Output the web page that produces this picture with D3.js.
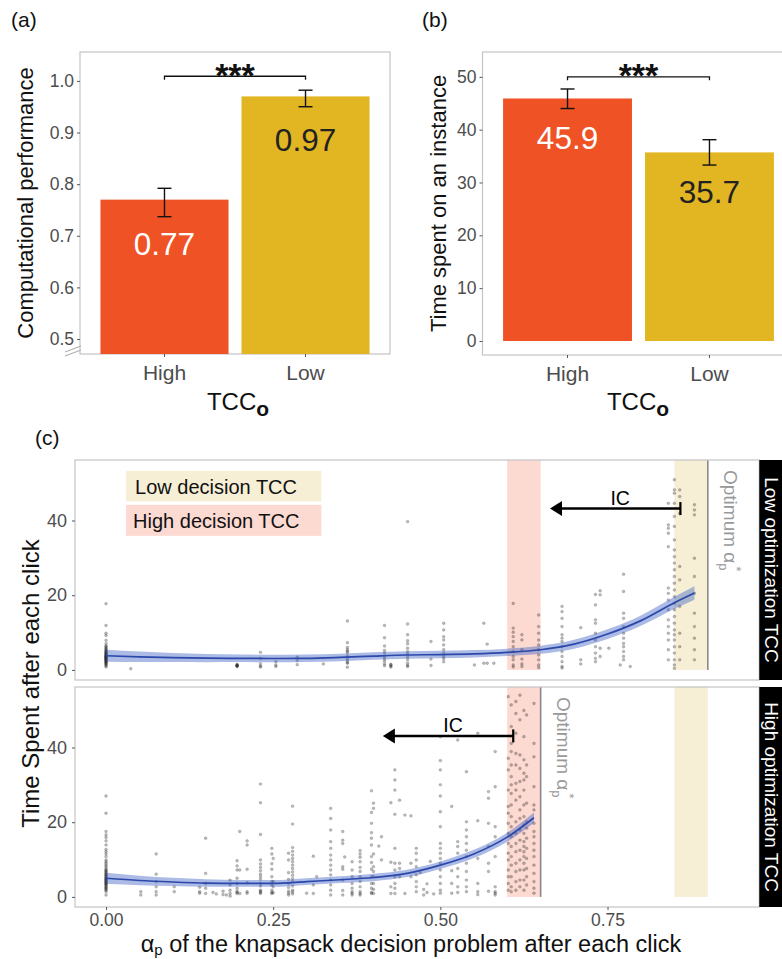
<!DOCTYPE html>
<html>
<head>
<meta charset="utf-8">
<script src="https://cdn.jsdelivr.net/npm/d3@7"></script>
<style>
  body { margin: 0; background: #fff; }
  svg { display: block; }
  text { font-family: "Liberation Sans", Arial, Helvetica, sans-serif; }
</style>
</head>
<body>
<svg id="fig" width="782" height="959"></svg>
<script>
// ---- Panel (a) and (b): bar charts by optimization TCC ----
const groups = ["High", "Low"];
const perfMean = [0.77, 0.97];
const perfLower = [0.737, 0.950];
const perfUpper = [0.792, 0.982];
const perfTicks = [0.5, 0.6, 0.7, 0.8, 0.9, 1.0];
const perfSigLevel = 1.009;

const timeMean = [45.9, 35.7];
const timeLower = [44.0, 33.3];
const timeUpper = [47.7, 38.1];
const timeTicks = [0, 10, 20, 30, 40, 50];
const timeSigLevel = 50.0;

const barColors = ["#ef5225", "#e2b623"];
const barLabelColors = ["#ffffff", "#222222"];

// ---- Panel (c): time spent after each click vs alpha_p, two facets ----
const facetNames = ["Low optimization TCC", "High optimization TCC"];
const clickTicksX = [0, 0.25, 0.5, 0.75];
const clickTicksY = [0, 20, 40];
const highDecisionBand = [0.60, 0.65];
const lowDecisionBand = [0.85, 0.90];
const optimumAlpha = [0.90, 0.65];
const icStart = [0.859, 0.609];
const icEnd = [0.664, 0.414];
const icLevel = [43.2, 43.1];

// observed clicks: [alpha_p, [time spent values]]
const topClicks = [
  [0, [17.7,11.9,9.8,9.2,7.9,7.0,6.4,6.2,5.9,5.6,5.4,5.1,4.8,4.6,4.3,4.0,3.7,3.5,3.2,2.9,2.7,2.4,2.1,1.9,1.6,1.3,1.1,0.8,4.5,3.9,3.3,2.6,3.0,3.6,4.2,2.2,1.8,5.0,2.8,3.4]],
  [0.037, [0.3]],
  [0.196, [1.3,1.0,1.2,0.9,1.5,1.1]],
  [0.231, [4.7,3.1,1.6,0.8,1.0]],
  [0.254, [2.2,0.9,1.3]],
  [0.286, [3.4,1.4,2.5]],
  [0.325, [1.6]],
  [0.361, [13.1,7.3,5.4,4.6,3.7,3.1,2.5,1.8,0.7,5.0,6.0,2.0]],
  [0.4165, [11.9,8.6,6.4,4.5,2.9,2.3,1.6,1.1,3.5,5.2]],
  [0.426, [1.5,0.8,1.0,1.3]],
  [0.451, [39.7,12.3,9.4,7.8,7.0,5.8,4.9,4.2,3.4,2.7,1.8,1.2,0.9]],
  [0.486, [7.6,2.9,1.2]],
  [0.505, [12.5,10.7,8.9,8.0,6.7,5.4,4.5,3.6,3.0,2.2]],
  [0.551, [1.3]],
  [0.565, [12.5,1.8]],
  [0.57, [6.9,1.8]],
  [0.58, [1.8]],
  [0.609, [17.8,11.2,10.1,8.9,7.6,6.2,4.9,3.6,2.7,1.3,0.8]],
  [0.622, [9.4,8.0,5.4,2.9,1.6,0.9]],
  [0.647, [14.7,11.6,9.8,8.0,6.7,5.4,4.0,2.7,1.3,0.6]],
  [0.682, [17.0,15.6,13.8,11.6,9.4,8.5,7.6,6.2,4.9,3.6,2.2,0.9,0.5]],
  [0.710, [11.3,2.7,1.6]],
  [0.732, [20.2,17.4,13.4,12.5,9.8,8.0,6.2,4.5,3.1,2.2]],
  [0.739, [21.2,20.1,5.8,3.6]],
  [0.752, [5.8]],
  [0.769, [1.3]],
  [0.774, [25.6,21.0,15.2,13.8,11.6,9.8,8.5,7.1,6.2,4.9,3.6,2.7]],
  [0.784, [0.9]],
  [0.841, [44.6,38.8,37.9,36.6,33.0,21.9,20.5,18.7,16.1,13.4,11.6,9.8,8.0,5.4,2.7]],
  [0.850, [50.9,48.2,47.3,44.6,41.1,38.4,34.8,32.1,30.3,28.6,26.8,25.0,23.2,21.4,19.6,17.8,16.1,14.3,12.5,10.7,9.4,8.0,6.2,4.5,2.7,1.3,0.4]],
  [0.858, [48.2,46.4,41.9,27.7,24.1,17.0,9.8,6.2,2.7]],
  [0.880, [44.2,42.8,41.5,29.9,25.0,20.5,15.2,11.6,8.5,5.4,2.7]]
];

const bottomClicks = [
  [0, [27.0,22.4,17.5,16.6,15.9,15.0,13.9,12.7,12.1,11.5,10.8,9.9,9.4,9.0,8.5,8.1,7.6,7.2,6.8,6.3,5.9,5.4,5.0,4.5,4.1,3.6,3.2,2.7,2.3,1.8,1.4,0.5,3.0,3.9,4.8,5.6,6.5,2.5,4.3,5.2,3.4,2.0,7.0,6.0,4.6,3.8]],
  [0.052, [1.4,0.5]],
  [0.075, [11.5,6.1,4.1,2.7,1.4,0.5]],
  [0.102, [2.7,1.4]],
  [0.14, [2.6,1.4,1.0]],
  [0.149, [15.7,6.3,3.6,2.3,0.9]],
  [0.16, [1.2]],
  [0.165, [0.8]],
  [0.175, [1.5,0.6]],
  [0.18, [0.5]],
  [0.1855, [4.5,3.2,1.8,0.9,0.2]],
  [0.196, [9.7,8.3,7.2,5.0,3.6,2.3,0.9,1.2,1.5]],
  [0.2, [17.5,7.2,0.9]],
  [0.211, [15.0,13.9,7.4,3.8,1.4,1.0]],
  [0.231, [30.2,25.2,16.7,9.9,8.8,7.9,7.0,6.1,5.4,4.7,3.6,2.9,1.8,0.9,1.2,1.5]],
  [0.248, [13.0,11.5,8.9,7.4,5.4,4.1,3.2,1.8,0.9,1.2]],
  [0.25, [10.3,4.1,2.7,1.1]],
  [0.273, [11.7,9.9,6.5,4.7,3.6,2.5,1.5,0.5,1.0]],
  [0.279, [24.3,19.5,13.2,12.2,11.2,10.3,9.4,8.5,7.6,6.7,5.8,4.9,4.1,2.9,1.8,0.8,1.3]],
  [0.3, [1.0]],
  [0.31, [10.9,3.2,0.9]],
  [0.315, [5.4]],
  [0.336, [23.7,21.0,17.9,14.8,13.0,11.2,9.9,8.5,7.2,5.9,4.5,3.2,1.8,0.5]],
  [0.354, [17.5,15.2,14.3,8.1,7.4,4.5,1.7,0.5]],
  [0.357, [10.7]],
  [0.368, [9.4,7.2,5.4,3.6,2.3,1.4,0.5,1.0]],
  [0.38, [12.4,11.5,10.6,9.4,7.9,6.8,5.4,4.1,2.7,1.4,0.5,0.9]],
  [0.397, [28.4,22.6,19.7,17.2,15.7,13.9,10.8,9.2,7.4,5.4,3.6,2.3,0.9,1.2]],
  [0.4, [25.1,23.7,11.5,8.1,6.8,5.4,3.6,2.0,0.9]],
  [0.408, [13.6]],
  [0.412, [16.1,9.9]],
  [0.426, [25.2,9.3,2.7,0.9]],
  [0.432, [34.0,31.3,28.6,22.1,13.0,9.0,7.2,5.4,3.6,2.3,0.9]],
  [0.439, [25.9,9.0,5.4,7.6]],
  [0.447, [21.9,0.9]],
  [0.456, [21.7,9.0,5.4]],
  [0.464, [13.0,11.7,9.9,8.1,5.9,4.1,2.7,1.4]],
  [0.47, [6.5]],
  [0.475, [2.0,0.5]],
  [0.48, [3.5,1.2]],
  [0.485, [9.5]],
  [0.49, [0.8]],
  [0.5, [42.9,36.5,34.0,30.0,27.0,22.8,18.8,14.3,13.0,11.7,10.3,9.0,7.2,5.4,3.6,1.8,1.0]],
  [0.517, [24.2,7.0,3.6,1.0]],
  [0.526, [42.0,14.8,13.5,11.7,7.6,5.4,2.7,1.2]],
  [0.539, [33.5,20.1,17.9,16.1,14.3,12.5,10.8,9.0,6.8,4.5,2.7,1.4]],
  [0.556, [43.8,20.4,10.3,3.6,1.4,0.6]],
  [0.572, [28.2,26.4,19.7,13.5,9.0,6.8,1.5]],
  [0.582, [38.9,29.5,18.8,16.1,10.8,2.7,1.4,1.0,0.5]],
  [0.6015, [53.6,37.1,34.0,28.6,24.2,22.4,19.7,17.0,14.3,11.7,9.9,7.2,5.4,3.6,1.8]],
  [0.606, [51.4,45.6,41.1,38.9,35.3,32.2,30.0,27.7,24.6,21.5,18.8,16.1,13.5,10.8,8.5,5.4,2.7,1.4]],
  [0.613, [52.3,49.1,43.8,38.4,35.3,30.4,28.6,25.9,20.1,17.0,14.3,12.1,9.0,6.8,4.1,1.8]],
  [0.619, [54.0,47.4,38.0,34.4,30.9,26.8,23.3,21.0,17.9,15.2,12.5,9.9,7.2,4.5,2.7]],
  [0.625, [49.9,42.9,36.7,33.1,31.3,28.6,24.6,21.5,19.3,17.0,14.8,13.5,12.1,10.8,9.0,7.2,4.5,1.8]],
  [0.629, [48.7,35.3,32.2,25.1,20.1,18.4,15.7,13.0,10.3,7.6,5.4,3.2]],
  [0.640, [51.8,41.1,37.5,29.5,24.6,23.3,19.7,17.5,16.1,14.3,12.5,10.8,8.5,6.3,4.1,2.3,1.0]]
];

// loess fits with standard-error half widths
const topFitAlpha = [0,0.05,0.1,0.15,0.2,0.25,0.3,0.35,0.4,0.45,0.5,0.55,0.6,0.65,0.7,0.75,0.8,0.85,0.88];
const topFitTime  = [3.8,3.5,3.3,3.15,3.1,3.05,3.1,3.35,3.7,4.0,4.1,4.3,4.7,5.4,6.9,9.6,13.2,18.0,20.6];
const topFitSE    = [1.6,1.4,1.2,1.1,1.0,1.0,1.0,1.0,1.0,1.0,1.0,1.0,1.0,1.1,1.2,1.3,1.4,1.6,1.8];
const bottomFitAlpha = [0,0.05,0.1,0.15,0.2,0.25,0.3,0.35,0.4,0.45,0.5,0.55,0.6,0.64];
const bottomFitTime  = [5.0,4.4,4.0,3.7,3.6,3.6,4.1,4.6,5.2,6.3,8.5,11.5,16.0,21.2];
const bottomFitSE    = [1.5,1.3,1.1,1.0,0.9,0.9,0.9,0.9,1.0,1.0,1.0,1.1,1.2,1.4];

const svg = d3.select("#fig");
const borderColor = "#c4c4c4";
const tickTextColor = "#4d4d4d";

// ---------- bar panels ----------
function barPanel(o) {
  const g = svg.append("g");
  const x = d3.scaleBand().domain(groups).range([o.x0, o.x1])
    .paddingInner(0.092).paddingOuter(0.145);
  const y = d3.scaleLinear().domain(o.domain).range([o.y1, o.y0]);

  g.append("rect").attr("x", o.x0).attr("y", o.y0)
    .attr("width", o.x1 - o.x0).attr("height", o.y1 - o.y0)
    .attr("fill", "none").attr("stroke", borderColor).attr("stroke-width", 1.2);

  const base = o.baseline === null ? o.y1 : y(o.baseline);
  g.selectAll("rect.bar").data(groups).join("rect").attr("class", "bar")
    .attr("x", d => x(d)).attr("width", x.bandwidth())
    .attr("y", (d, i) => y(o.mean[i]))
    .attr("height", (d, i) => base - y(o.mean[i]))
    .attr("fill", (d, i) => barColors[i]);

  // error bars
  const cap = 7;
  groups.forEach((d, i) => {
    const cx = x(d) + x.bandwidth() / 2;
    const eb = g.append("g").attr("stroke", "#111").attr("stroke-width", 1.4);
    eb.append("line").attr("x1", cx).attr("x2", cx).attr("y1", y(o.lower[i])).attr("y2", y(o.upper[i]));
    eb.append("line").attr("x1", cx - cap).attr("x2", cx + cap).attr("y1", y(o.lower[i])).attr("y2", y(o.lower[i]));
    eb.append("line").attr("x1", cx - cap).attr("x2", cx + cap).attr("y1", y(o.upper[i])).attr("y2", y(o.upper[i]));
  });

  // value labels inside bars
  g.selectAll("text.val").data(groups).join("text").attr("class", "val")
    .attr("x", d => x(d) + x.bandwidth() / 2)
    .attr("y", (d, i) => y(o.mean[i]) + o.labelDrop)
    .attr("text-anchor", "middle")
    .style("font-size", "31.5px")
    .attr("fill", (d, i) => barLabelColors[i])
    .text((d, i) => o.format(o.mean[i]));

  // significance bracket
  const bx1 = x(groups[0]) + x.bandwidth() / 2, bx2 = x(groups[1]) + x.bandwidth() / 2;
  const by = y(o.sig);
  g.append("path").attr("d", `M${bx1},${by + 3.5}V${by}H${bx2}V${by + 3.5}`)
    .attr("fill", "none").attr("stroke", "#111").attr("stroke-width", 1.3);
  g.append("text").attr("x", (bx1 + bx2) / 2).attr("y", by + 10.5)
    .attr("text-anchor", "middle").style("font-size", "34px").style("font-weight", "bold")
    .attr("fill", "#111").text("***");

  // axes
  const ay = g.append("g").attr("transform", `translate(${o.x0},0)`)
    .call(d3.axisLeft(y).tickValues(o.ticks).tickFormat(o.tickFormat).tickSize(3).tickPadding(3));
  ay.select(".domain").remove();
  ay.selectAll("line").attr("stroke", "#555");
  ay.selectAll("text").attr("fill", tickTextColor).style("font-size", "17.5px");

  const ax = g.append("g").attr("transform", `translate(0,${o.y1})`)
    .call(d3.axisBottom(x).tickSize(3).tickPadding(8));
  ax.select(".domain").remove();
  ax.selectAll("line").attr("stroke", "#555");
  ax.selectAll("text").attr("fill", tickTextColor).style("font-size", "21px");

  // axis titles
  g.append("text").attr("transform", `translate(${o.titleX},${(o.y0 + o.y1) / 2}) rotate(-90)`)
    .attr("text-anchor", "middle").style("font-size", "22px").attr("fill", "#111")
    .text(o.ytitle);
  const xt = g.append("text").attr("x", o.xtitleX).attr("y", 410)
    .attr("text-anchor", "middle").style("font-size", "24px").attr("fill", "#111");
  xt.append("tspan").text("TCC");
  xt.append("tspan").attr("dy", 6).style("font-size", "21px").style("font-weight", "bold").text("o");

  svg.append("text").attr("x", o.letterX).attr("y", 27).style("font-size", "21px")
    .attr("fill", "#111").text(o.letter);
  return g;
}

const ga = barPanel({
  x0: 80, x1: 390, y0: 52, y1: 354, domain: [0.471, 1.056], baseline: null,
  mean: perfMean, lower: perfLower, upper: perfUpper, ticks: perfTicks,
  tickFormat: d3.format(".1f"), format: d3.format(".2f"), labelDrop: 55,
  sig: perfSigLevel, ytitle: "Computational performance", titleX: 33,
  xtitleX: 238, letter: "(a)", letterX: 11
});
// axis break marks
ga.append("g").attr("stroke", "#b0b0b0").attr("stroke-width", 1.1)
  .selectAll("line").data([0, 4]).join("line")
  .attr("x1", 65).attr("x2", 81).attr("y1", d => 356 - d).attr("y2", d => 350 - d);

barPanel({
  x0: 482.5, x1: 794.5, y0: 52, y1: 355, domain: [-2.65, 54.7], baseline: 0,
  mean: timeMean, lower: timeLower, upper: timeUpper, ticks: timeTicks,
  tickFormat: d3.format("d"), format: d3.format(".1f"), labelDrop: 50.5,
  sig: timeSigLevel, ytitle: "Time spent on an instance", titleX: 446,
  xtitleX: 638, letter: "(b)", letterX: 422
});

// ---------- panel (c) ----------
svg.append("text").attr("x", 35).attr("y", 445).style("font-size", "21px")
  .attr("fill", "#111").text("(c)");

const cx0 = 75, cx1 = 759.3, stripW = 23;
const xc = d3.scaleLinear().domain([-0.0464, 0.977]).range([cx0, cx1]);
const facetTop = [460, 687];
const facetH = 220;
const facetClicks = [topClicks, bottomClicks];
const facetFit = [
  [topFitAlpha, topFitTime, topFitSE],
  [bottomFitAlpha, bottomFitTime, bottomFitSE]
];
const pink = "#fcd9d1", beige = "#f6efd5";

facetNames.forEach((name, fi) => {
  const t0 = facetTop[fi], t1 = t0 + facetH;
  const y = d3.scaleLinear().domain([-2.7, 56.2]).range([t1, t0]);
  const g = svg.append("g");

  // decision TCC bands
  [[highDecisionBand, pink], [lowDecisionBand, beige]].forEach(([band, col]) => {
    g.append("rect").attr("x", xc(band[0])).attr("width", xc(band[1]) - xc(band[0]))
      .attr("y", t0).attr("height", y(0) - t0).attr("fill", col);
  });

  // optimum line
  g.append("line").attr("x1", xc(optimumAlpha[fi])).attr("x2", xc(optimumAlpha[fi]))
    .attr("y1", t0).attr("y2", y(0)).attr("stroke", "#8a8a8a").attr("stroke-width", 1.6);

  // points
  const pts = facetClicks[fi].flatMap(([a, vals]) => vals.map(v => [a, v]));
  g.append("g").selectAll("circle").data(pts).join("circle")
    .attr("cx", d => xc(d[0])).attr("cy", d => y(d[1])).attr("r", 1.45)
    .attr("fill", "#1a1a1a").attr("fill-opacity", 0.3)
    .attr("stroke", "#1a1a1a").attr("stroke-opacity", 0.25).attr("stroke-width", 0.5);

  // smooth fit with ribbon
  const [fa, ft, fs] = facetFit[fi];
  const fit = fa.map((a, i) => ({ a, t: ft[i], s: fs[i] }));
  g.append("path").datum(fit)
    .attr("d", d3.area().x(d => xc(d.a)).y0(d => y(d.t - d.s)).y1(d => y(d.t + d.s)).curve(d3.curveMonotoneX))
    .attr("fill", "#3a5cc2").attr("fill-opacity", 0.42);
  g.append("path").datum(fit)
    .attr("d", d3.line().x(d => xc(d.a)).y(d => y(d.t)).curve(d3.curveMonotoneX))
    .attr("fill", "none").attr("stroke", "#2b48ab").attr("stroke-width", 1.7);

  // IC arrow
  const ay = y(icLevel[fi]);
  const xs = xc(icStart[fi]), xe = xc(icEnd[fi]);
  g.append("line").attr("x1", xs).attr("x2", xe + 10).attr("y1", ay).attr("y2", ay)
    .attr("stroke", "#000").attr("stroke-width", 2.4);
  g.append("line").attr("x1", xs).attr("x2", xs).attr("y1", ay - 6.5).attr("y2", ay + 6.5)
    .attr("stroke", "#000").attr("stroke-width", 2.2);
  g.append("path").attr("d", `M${xe},${ay}L${xe + 12},${ay - 7.5}L${xe + 12},${ay + 7.5}Z`).attr("fill", "#000");
  g.append("text").attr("x", (xs + xe) / 2 + 5).attr("y", ay - 3.8).attr("text-anchor", "middle")
    .style("font-size", "19.5px").attr("fill", "#000").text("IC");

  // optimum label
  const ot = g.append("text")
    .attr("transform", `translate(${xc(optimumAlpha[fi]) + 16},${t0 + 10}) rotate(90)`)
    .style("font-size", "19px").attr("fill", "#9a9a9a");
  ot.append("tspan").text("Optimum α");
  ot.append("tspan").attr("dy", 5).style("font-size", "13px").text("p");
  ot.append("tspan").attr("dx", -4).attr("dy", -13.5).style("font-size", "13px").text("*");

  // panel border
  g.append("rect").attr("x", cx0).attr("y", t0).attr("width", cx1 - cx0).attr("height", facetH)
    .attr("fill", "none").attr("stroke", borderColor).attr("stroke-width", 1.2);

  // strip
  g.append("rect").attr("x", cx1).attr("y", t0).attr("width", stripW + 2).attr("height", facetH).attr("fill", "#000");
  g.append("text").attr("transform", `translate(${cx1 + 5.5},${t0 + facetH / 2}) rotate(90)`)
    .attr("text-anchor", "middle").style("font-size", "19px").attr("fill", "#fff").text(name);

  // y axis
  const yax = g.append("g").attr("transform", `translate(${cx0},0)`)
    .call(d3.axisLeft(y).tickValues(clickTicksY).tickSize(3).tickPadding(5));
  yax.select(".domain").remove();
  yax.selectAll("line").attr("stroke", "#555");
  yax.selectAll("text").attr("fill", tickTextColor).style("font-size", "18px");

  if (fi === 0) {
    // legend for decision TCC bands
    const leg = [["Low decision TCC", beige, 53.3, 45.1], ["High decision TCC", pink, 44.2, 35.9]];
    leg.forEach(([lab, col, top, bot], li) => {
      g.append("rect").attr("x", xc(0.030)).attr("width", xc(0.322) - xc(0.030))
        .attr("y", y(top)).attr("height", y(bot) - y(top)).attr("fill", col);
      g.append("text").attr("x", xc(0.030) + (li ? 7 : 9)).attr("y", y(bot) - 7.7)
        .style("font-size", "20px").attr("fill", "#111").text(lab);
    });
  }
  if (fi === 1) {
    const xax = g.append("g").attr("transform", `translate(0,${t1})`)
      .call(d3.axisBottom(xc).tickValues(clickTicksX).tickFormat(d3.format(".2f")).tickSize(3).tickPadding(3.5));
    xax.select(".domain").remove();
    xax.selectAll("line").attr("stroke", "#555");
    xax.selectAll("text").attr("fill", tickTextColor).style("font-size", "17.5px");
  }
});

// panel (c) axis titles
svg.append("text").attr("transform", `translate(39,${(facetTop[0] + facetTop[1] + facetH) / 2}) rotate(-90)`)
  .attr("text-anchor", "middle").style("font-size", "24px").attr("fill", "#111")
  .text("Time Spent after each click");
const xct = svg.append("text").attr("x", 411).attr("y", 951.5).attr("text-anchor", "middle")
  .style("font-size", "23.5px").attr("fill", "#111");
xct.append("tspan").text("α");
xct.append("tspan").attr("dy", 3.5).style("font-size", "15px").text("p");
xct.append("tspan").attr("dy", -3.5).text(" of the knapsack decision problem after each click");
</script>
</body>
</html>
